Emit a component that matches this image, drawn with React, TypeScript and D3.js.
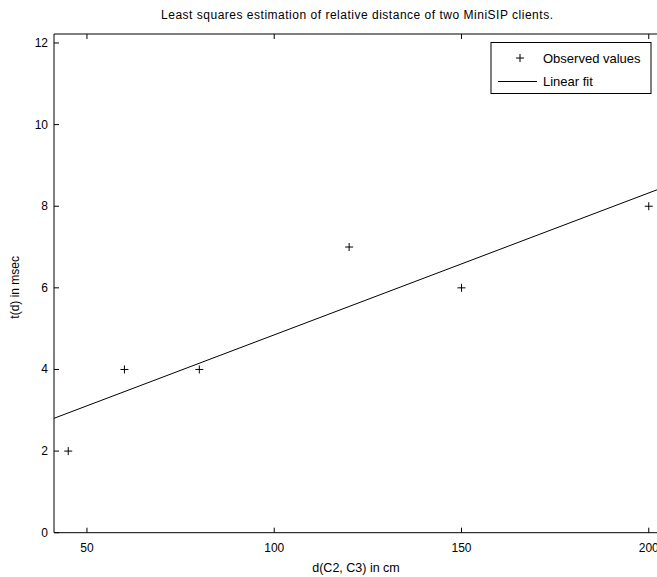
import * as d3 from "d3";

const titleText = "Least squares estimation of relative distance of two MiniSIP clients.";
const xLabel = "d(C2, C3) in cm";
const yLabel = "t(d) in msec";

// observed points
const distances = [45, 60, 80, 120, 150, 200];
const delays = [2, 4, 4, 7, 6, 8];

const xTicks = [50, 100, 150, 200];
const yTicks = [0, 2, 4, 6, 8, 10, 12];
const legendLabels = ["Observed values", "Linear fit"];

const App = () => {
  const width = 657;
  const height = 577;

  const left = 54;
  const top = 34;
  const bottom = 532.7;
  const right = 660;

  const xScale = d3.scaleLinear().domain([41.2, 203]).range([left, right]);
  const yScale = d3.scaleLinear().domain([0, 12.22]).range([bottom, top]);

  // least squares fit of the observed values
  const mx = d3.mean(distances)!;
  const my = d3.mean(delays)!;
  const sxy = d3.sum(distances, (x, i) => (x - mx) * (delays[i] - my));
  const sxx = d3.sum(distances, (x) => (x - mx) ** 2);
  const slope = sxy / sxx;
  const icpt = my - slope * mx;

  const fitLine = d3
    .line<number>()
    .x((d) => xScale(d))
    .y((d) => yScale(icpt + slope * d));

  const font = "'Liberation Sans', Arial, sans-serif";
  const tick = 5;

  return (
    <div style={{ position: "absolute", left: 0, top: 0 }}>
      <svg width={width} height={height} style={{ display: "block", background: "#fff" }} fontFamily={font}>
        <text x={357} y={19} textAnchor="middle" fontSize={12} fill="#000" textLength={392} lengthAdjust="spacing">
          {titleText}
        </text>

        {/* axes frame */}
        <g stroke="#000" strokeWidth={1} fill="none">
          <line x1={left} x2={right} y1={bottom} y2={bottom} />
          <line x1={left} x2={right} y1={top} y2={top} />
          <line x1={left} x2={left} y1={top} y2={bottom} />
          {xTicks.map((t) => (
            <g key={t}>
              <line x1={xScale(t)} x2={xScale(t)} y1={bottom} y2={bottom - tick} />
              <line x1={xScale(t)} x2={xScale(t)} y1={top} y2={top + tick} />
            </g>
          ))}
          {yTicks.map((t) => (
            <line key={t} x1={left} x2={left + tick} y1={yScale(t)} y2={yScale(t)} />
          ))}
        </g>

        <g fontSize={12} fill="#000">
          {xTicks.map((t) => (
            <text key={t} x={xScale(t)} y={552} textAnchor="middle">
              {t}
            </text>
          ))}
          {yTicks.map((t) => (
            <text key={t} x={48} y={yScale(t) + 4} textAnchor="end">
              {t}
            </text>
          ))}
        </g>

        <text x={356} y={572} textAnchor="middle" fontSize={12.5} fill="#000">
          {xLabel}
        </text>
        <text
          transform={`translate(19,${(top + bottom) / 2 + 4}) rotate(-90)`}
          textAnchor="middle"
          fontSize={12}
          fill="#000"
        >
          {yLabel}
        </text>

        {/* fit */}
        <path d={fitLine(xScale.domain()) ?? ""} stroke="#000" strokeWidth={1} fill="none" />

        {/* observed markers */}
        <g stroke="#000" strokeWidth={1}>
          {distances.map((x, i) => (
            <g key={x} transform={`translate(${xScale(x)},${yScale(delays[i])})`}>
              <line x1={-4} x2={4} y1={0} y2={0} />
              <line x1={0} x2={0} y1={-4} y2={4} />
            </g>
          ))}
        </g>

        {/* legend */}
        <g>
          <rect x={491} y={42.5} width={160} height={51} fill="#fff" stroke="#000" strokeWidth={1} />
          <g stroke="#000" strokeWidth={1} transform="translate(520,58)">
            <line x1={-4} x2={4} y1={0} y2={0} />
            <line x1={0} x2={0} y1={-4} y2={4} />
          </g>
          <line x1={498} x2={537} y1={81.5} y2={81.5} stroke="#000" strokeWidth={1} />
          <g fontSize={13} fill="#000">
            <text x={543} y={62.5}>{legendLabels[0]}</text>
            <text x={543} y={86}>{legendLabels[1]}</text>
          </g>
        </g>
      </svg>
    </div>
  );
};

export default App;
